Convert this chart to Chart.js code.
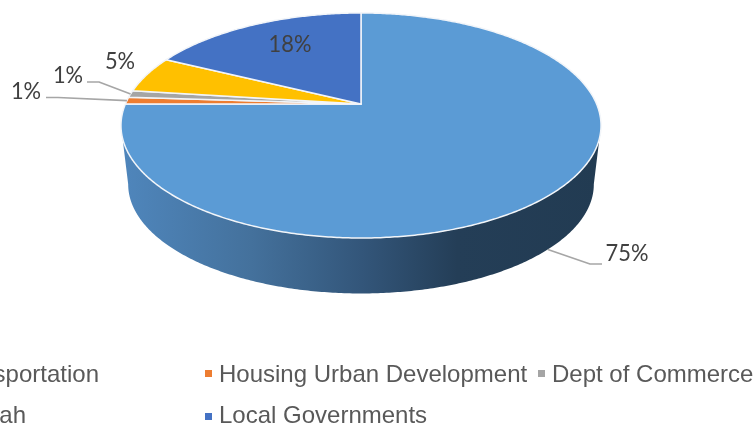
<!DOCTYPE html>
<html>
<head>
<meta charset="utf-8">
<style>
  html, body { margin: 0; padding: 0; background: #fff; overflow: hidden; }
  canvas { display: block; }
</style>
<script src="https://cdn.jsdelivr.net/npm/chart.js@4"></script>
</head>
<body>
<canvas id="pie3d" width="754" height="424"></canvas>
<script>
// data (printed labels are rounded)
const categories = ['Dept of Transportation', 'Housing Urban Development', 'Dept of Commerce', 'State of Utah', 'Local Governments'];
const shares = [75, 1, 1, 5.3, 17.7];
const sliceColors = ['#5B9BD5', '#ED7D31', '#A5A5A5', '#FFC000', '#4472C4'];

// tilted disc: circle -> screen, with perspective (apex sits above the ellipse centre)
const apex = { x: 361, y: 104 };
const radX = 235.6, radY = 108.4, persp = -0.191;
// lower rim of the disc
const rimTop = 163.5, rimScale = 0.97;
// angles where the wall starts/ends on the silhouette
const wallFrom = Math.asin(0.191), wallTo = Math.PI - wallFrom;

function onTop(a) {
  const d = 1 + persp * Math.sin(a);
  return { x: apex.x + radX * Math.cos(a) / d, y: apex.y + radY * Math.sin(a) / d };
}
function onRim(a) {
  const d = 1 + persp * Math.sin(a);
  return { x: apex.x + rimScale * radX * Math.cos(a) / d, y: rimTop + rimScale * radY * Math.sin(a) / d };
}

function sweep(ctx, fn, a0, a1) {
  const n = Math.max(2, Math.ceil(Math.abs(a1 - a0) / 0.01));
  for (let i = 0; i <= n; i++) {
    const p = fn(a0 + (a1 - a0) * i / n);
    ctx.lineTo(p.x, p.y);
  }
}

// label spots, same order as the slices. 'from' = which edge the leader starts at
const labelSpots = [
  { x: 627, y: 254, from: 'rim', elbow: [[590, 264], [602, 264]] },
  { x: 26, y: 92, from: 'top', elbow: [[58, 97.5], [46, 97.5]] },
  { x: 68, y: 76, from: 'top', elbow: [[99, 82], [87, 82]] },
  { x: 120, y: 62 },
  { x: 290, y: 45 }
];
// legend slots, first column runs off the left side of the picture
const legendSpots = [
  { x: 99, y: 375, align: 'right' },
  { x: 219, y: 375, align: 'left', boxX: 205, boxY: 370 },
  { x: 552, y: 375, align: 'left', boxX: 538, boxY: 370 },
  { x: 26, y: 416, align: 'right' },
  { x: 219, y: 416, align: 'left', boxX: 205, boxY: 413 }
];

const pie3dPlugin = {
  id: 'pie3d',
  beforeDatasetsDraw(chart) {
    const ctx = chart.ctx;
    const arcs = chart.getDatasetMeta(0).data;

    // 1. side wall
    arcs.forEach(arc => {
      const lo = Math.max(arc.startAngle, wallFrom);
      const hi = Math.min(arc.endAngle, wallTo);
      if (lo >= hi) return;
      const g = ctx.createLinearGradient(122, 0, 601, 0);
      g.addColorStop(0, '#4F86BC');
      g.addColorStop(0.27, '#44719C');
      g.addColorStop(0.5, '#33567A');
      g.addColorStop(0.7, '#243E57');
      g.addColorStop(1, '#223B52');
      ctx.beginPath();
      sweep(ctx, onTop, lo, hi);
      sweep(ctx, onRim, hi, lo);
      ctx.closePath();
      ctx.fillStyle = g;
      ctx.fill();
    });

    // 2. top face
    arcs.forEach((arc, i) => {
      ctx.beginPath();
      ctx.moveTo(apex.x, apex.y);
      sweep(ctx, onTop, arc.startAngle, arc.endAngle);
      ctx.closePath();
      ctx.fillStyle = sliceColors[i];
      ctx.fill();
      ctx.lineWidth = 1.5;
      ctx.lineJoin = 'round';
      ctx.strokeStyle = '#F2F5F9';
      ctx.stroke();
    });

    // 3. leader lines and percent labels
    arcs.forEach((arc, i) => {
      const spot = labelSpots[i];
      if (spot.elbow) {
        const mid = (arc.startAngle + arc.endAngle) / 2;
        const p = spot.from === 'rim' ? onRim(mid) : onTop(mid);
        ctx.beginPath();
        ctx.moveTo(p.x, p.y);
        spot.elbow.forEach(e => ctx.lineTo(e[0], e[1]));
        ctx.lineWidth = 1.6;
        ctx.strokeStyle = '#A6A6A6';
        ctx.stroke();
      }
      const text = Math.round(shares[i]) + '%';
      ctx.fillStyle = '#404040';
      ctx.font = '23px Lato';
      ctx.textAlign = 'center';
      ctx.textBaseline = 'middle';
      ctx.fillText(text, spot.x, spot.y, ctx.measureText(text).width * 0.95);
    });

    // 4. legend
    categories.forEach((name, i) => {
      const spot = legendSpots[i];
      if (spot.boxX !== undefined) {
        ctx.fillStyle = sliceColors[i];
        ctx.fillRect(spot.boxX, spot.boxY, 7, 7);
      }
      ctx.fillStyle = '#595959';
      ctx.font = '24px "Liberation Sans"';
      ctx.textAlign = spot.align;
      ctx.textBaseline = 'middle';
      ctx.fillText(name, spot.x, spot.y);
    });

    return false; // the library's flat arcs are replaced by the tilted ones above
  }
};

new Chart(document.getElementById('pie3d'), {
  type: 'pie',
  data: {
    labels: categories,
    datasets: [{ data: shares, backgroundColor: sliceColors }]
  },
  options: {
    responsive: false,
    animation: false,
    plugins: { legend: { display: false }, tooltip: { enabled: false } }
  },
  plugins: [pie3dPlugin]
});
</script>
</body>
</html>
